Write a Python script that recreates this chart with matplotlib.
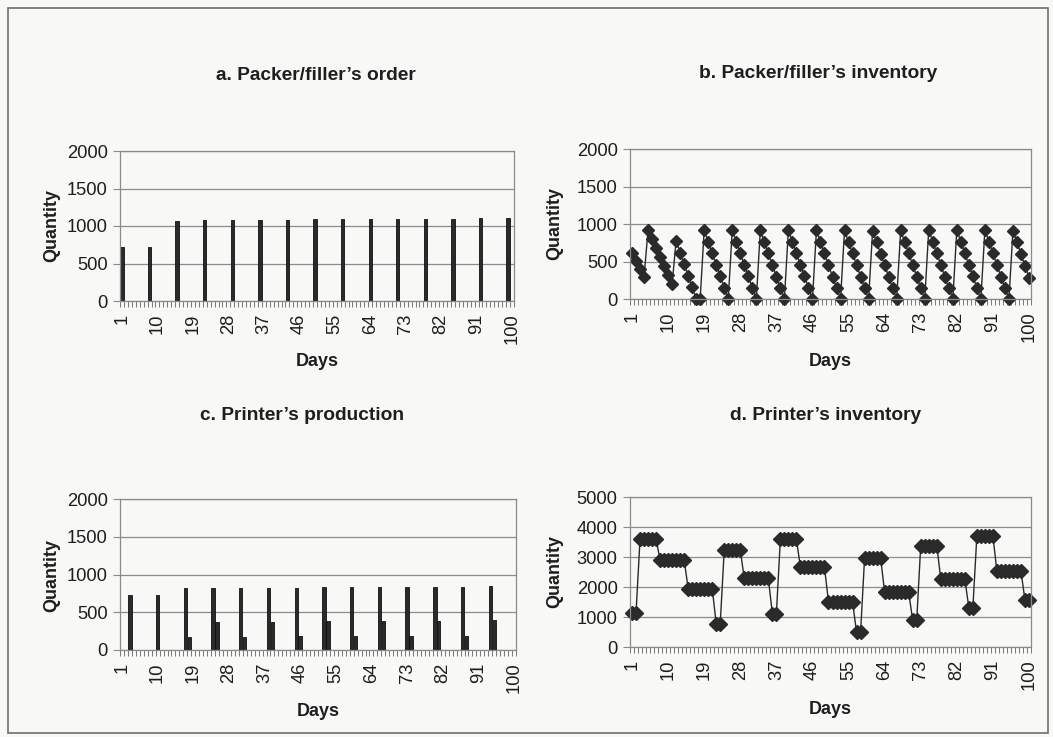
import matplotlib
matplotlib.use("Agg")
import matplotlib.pyplot as plt
from matplotlib.patches import Rectangle

W, H = 1053, 737

# ---- data ----
days = list(range(1, 101))

# a. packer/filler orders (one every 7 days)
order_days = [1, 8, 15, 22, 29, 36, 43, 50, 57, 64, 71, 78, 85, 92, 99]
order_qty = [725, 725, 1070, 1075, 1080, 1080, 1085, 1090, 1095, 1095,
             1095, 1100, 1100, 1105, 1105]

# b. packer/filler inventory, day 1..100
packer_inv = [
    620, 510, 400, 290, 920, 800, 680, 560, 440, 320,
    200, 775, 620, 465, 310, 155, 0, 0, 920, 765,
    610, 460, 305, 150, 0, 920, 765, 610, 455, 305,
    150, 0, 915, 765, 610, 455, 300, 150, 0, 920,
    765, 610, 460, 305, 150, 0, 920, 765, 610, 455,
    300, 150, 0, 915, 760, 610, 455, 300, 150, 0,
    910, 760, 605, 455, 300, 150, 0, 915, 760, 610,
    455, 300, 150, 0, 920, 765, 610, 455, 300, 150,
    0, 920, 765, 610, 455, 305, 150, 0, 920, 765,
    610, 455, 300, 150, 0, 910, 760, 600, 440, 285,
]

# c. printer production (main run + a smaller run the day after)
prod_days = [3, 10, 17, 24, 31, 38, 45, 52, 59, 66, 73, 80, 87, 94]
prod_qty = [730, 730, 815, 815, 815, 820, 825, 830, 830, 830, 830, 835, 840, 850]
extra_days = [18, 25, 32, 39, 46, 53, 60, 67, 74, 81, 88, 95]
extra_qty = [175, 370, 178, 372, 182, 378, 185, 378, 188, 382, 192, 392]

# d. printer inventory, day 1..100
printer_inv = [
    1130, 1130, 3590, 3590, 3590, 3590, 3590, 2910, 2910, 2910,
    2910, 2910, 2910, 2910, 1950, 1950, 1950, 1950, 1950, 1950,
    1950, 780, 780, 3230, 3230, 3230, 3230, 3230, 2290, 2290,
    2290, 2290, 2290, 2290, 2290, 1110, 1110, 3590, 3590, 3590,
    3590, 3590, 2660, 2660, 2660, 2660, 2660, 2660, 2660, 1500,
    1500, 1500, 1500, 1500, 1500, 1500, 490, 490, 2970, 2970,
    2970, 2970, 2970, 1820, 1820, 1820, 1820, 1820, 1820, 1820,
    890, 890, 3380, 3380, 3380, 3380, 3380, 2270, 2270, 2270,
    2270, 2270, 2270, 2270, 1310, 1310, 3700, 3700, 3700, 3700,
    3700, 2520, 2520, 2520, 2520, 2520, 2520, 2520, 1560, 1560,
]

day_ticks = [1, 10, 19, 28, 37, 46, 55, 64, 73, 82, 91, 100]

plt.rcParams['font.family'] = ['Liberation Sans', 'DejaVu Sans']
BG = '#f8f8f6'
INK = '#1e1e1e'
DARK = '#2a2a2a'

fig = plt.figure(figsize=(W / 100, H / 100), dpi=100, facecolor=BG)


def px_axes(left, top, right, bottom):
    return fig.add_axes([left / W, 1 - bottom / H, (right - left) / W, (bottom - top) / H])


def ftext(x, y, s, **kw):
    fig.text(x / W, 1 - y / H, s, ha='center', va='center', color=INK, **kw)


def style(ax, ymax, ystep):
    ax.set_facecolor(BG)
    ax.set_xlim(0.5, 100.5)
    ax.set_ylim(0, ymax)
    ax.set_yticks(range(0, ymax + 1, ystep))
    ax.yaxis.grid(True, color='#8c8c8c', lw=0.9)
    ax.set_axisbelow(True)
    for sp in ax.spines.values():
        sp.set_color('#8a8a8a')
        sp.set_linewidth(0.9)
    ax.set_xticks(day_ticks)
    ax.set_xticklabels([str(d) for d in day_ticks])
    ax.set_xticks([d + 0.5 for d in range(0, 101)], minor=True)
    ax.tick_params(axis='x', which='major', length=0, pad=9, labelrotation=90,
                   labelsize=13.2, labelcolor=INK)
    ax.tick_params(axis='x', which='minor', length=4, width=0.7, color='#777777')
    ax.tick_params(axis='y', length=5, width=0.8, color='#8a8a8a', pad=4,
                   labelsize=13.2, labelcolor=INK)


# a. Packer/filler's order
ax_a = px_axes(120, 151, 514, 301)
style(ax_a, 2000, 500)
ax_a.bar(order_days, order_qty, width=0.85, color=DARK, edgecolor='#111111', lw=0.6)

# b. Packer/filler's inventory
ax_b = px_axes(630, 149, 1031, 299)
style(ax_b, 2000, 500)
ax_b.plot(days, packer_inv, color=DARK, lw=1.0, marker='D', markersize=6.5,
          markerfacecolor=DARK, markeredgecolor=DARK, clip_on=False)

# c. Printer's production
ax_c = px_axes(120, 499, 516, 650)
style(ax_c, 2000, 500)
ax_c.bar(prod_days, prod_qty, width=0.85, color=DARK, edgecolor='#111111', lw=0.6)
ax_c.bar(extra_days, extra_qty, width=0.85, color=DARK, edgecolor='#111111', lw=0.6)

# d. Printer's inventory
ax_d = px_axes(630, 497, 1031, 647)
style(ax_d, 5000, 1000)
ax_d.plot(days, printer_inv, color=DARK, lw=1.0, marker='D', markersize=7,
          markerfacecolor=DARK, markeredgecolor=DARK, clip_on=False)

# titles and axis labels
ftext(316, 76, "a. Packer/filler’s order", fontsize=13.8, fontweight='bold')
ftext(818, 74, "b. Packer/filler’s inventory", fontsize=13.8, fontweight='bold')
ftext(302, 416, "c. Printer’s production", fontsize=13.8, fontweight='bold')
ftext(826, 415, "d. Printer’s inventory", fontsize=13.8, fontweight='bold')

for x, y in [(317, 362), (830, 362), (318, 711), (830, 710)]:
    ftext(x, y, "Days", fontsize=13, fontweight='bold')
for x, y in [(52, 226), (555, 224), (52, 575), (555, 572)]:
    ftext(x, y, "Quantity", fontsize=13, fontweight='bold', rotation=90)

# outer frame
fig.patches.append(Rectangle((8 / W, 1 - 733 / H), 1040 / W, 725 / H,
                             transform=fig.transFigure, fill=False,
                             edgecolor='#6e6e6e', lw=1.2))

fig.savefig('out.png', dpi=100, facecolor=BG)
